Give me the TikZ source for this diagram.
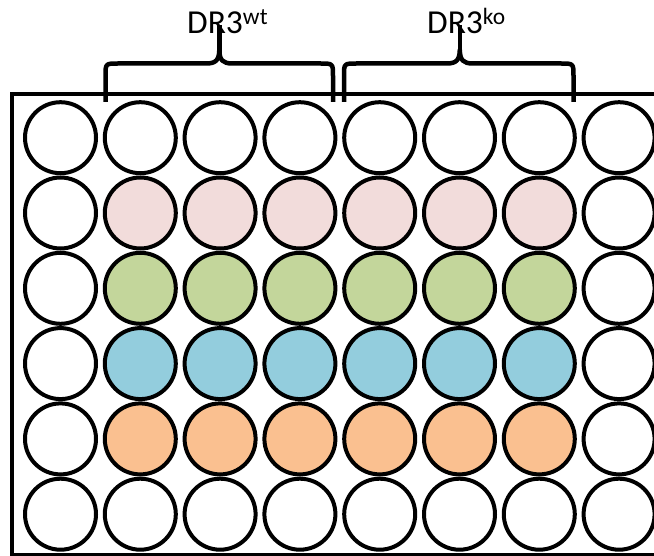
\documentclass[tikz,border=0pt]{standalone}
\usepackage{fontspec}
\setmainfont{Carlito}
\definecolor{wpink}{RGB}{242,220,219}
\definecolor{wgreen}{RGB}{195,214,155}
\definecolor{wblue}{RGB}{147,205,221}
\definecolor{worange}{RGB}{250,192,144}
\tikzset{
  well/.style={circle, draw=black, line width=4pt, minimum size=71pt, inner sep=0pt},
  plate/.style={draw=black, line width=4pt},
  bracepath/.style={draw=black, line width=4.5pt, line join=round},
  lbl/.style={anchor=base west, inner sep=0pt, font=\fontsize{33.5}{40}\selectfont}
}
\begin{document}
\begin{tikzpicture}[x=1pt,y=-1pt]
\useasboundingbox (0,0) rectangle (654,556);
\clip (0,0) rectangle (654,556);
\fill[white] (0,0) rectangle (654,556);
\draw[plate] (12,94) rectangle (720,555);
% wells
\foreach \r/\cA/\cB in {0/white/white,1/wpink/white,2/wgreen/white,3/wblue/white,4/worange/white,5/white/white}{
  \foreach \c in {0,...,7}{
    \pgfmathsetmacro{\xx}{60.5+79.8*\c}
    \pgfmathsetmacro{\yy}{137.7+75.3*\r}
    \ifnum\c=0
      \node[well, fill=\cB] (w\r\c) at (\xx,\yy) {};
    \else\ifnum\c=7
      \node[well, fill=\cB] (w\r\c) at (\xx,\yy) {};
    \else
      \node[well, fill=\cA] (w\r\c) at (\xx,\yy) {};
    \fi\fi
  }
}
% braces
\draw[bracepath] (105.5,102) -- (105.5,76) .. controls (105.5,63.5) .. (118,63.5) -- (206,63.5)
  .. controls (216,63.5) and (219,60) .. (219.3,50)
  .. controls (219.6,60) and (222.5,63.5) .. (232.5,63.5) -- (320.5,63.5)
  .. controls (333,63.5) .. (333,76) -- (333,102);
\draw[bracepath] (219.3,54) -- (219.3,25);
\draw[bracepath] (344,102) -- (344,76) .. controls (344,63.5) .. (356.5,63.5) -- (446.5,63.5)
  .. controls (456.5,63.5) and (459.5,60) .. (459.8,50)
  .. controls (460.1,60) and (463,63.5) .. (473,63.5) -- (561,63.5)
  .. controls (573.5,63.5) .. (573.5,76) -- (573.5,102);
\draw[bracepath] (459.8,54) -- (459.8,25);
% labels
\node[lbl] (lwt) at (187,34) {DR3\textsuperscript{wt}};
\node[lbl] (lko) at (427,34) {DR3\textsuperscript{ko}};
\end{tikzpicture}
\end{document}
